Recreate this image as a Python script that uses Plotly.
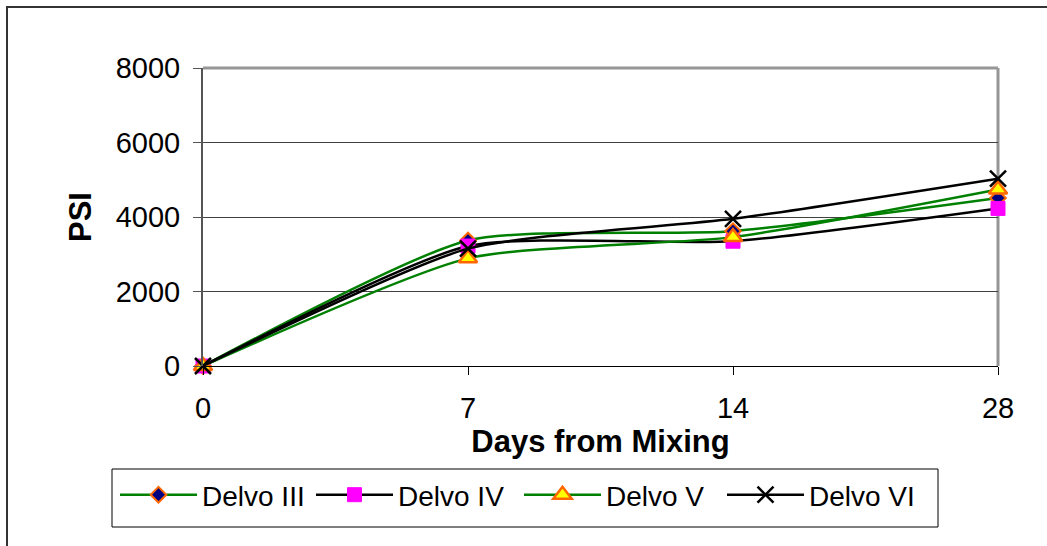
import plotly.graph_objects as go

days = ["0", "7", "14", "28"]
delvo_iii = [0, 3370, 3620, 4510]
delvo_iv = [0, 3220, 3350, 4230]
delvo_v = [0, 2890, 3460, 4740]
delvo_vi = [0, 3150, 3950, 5030]
y_ticks = [0, 2000, 4000, 6000, 8000]

FONT = "Arial, 'Liberation Sans', sans-serif"
W, H = 1047, 546
L, R, T, B = 203, 998, 68, 366
PW, PH = R - L, B - T

def px_x(p):
    return (p - L) / PW

def px_y(p):
    return (B - p) / PH

xpos = list(range(len(days)))

# legend entry start positions (px) of the sample line
legend_starts = [122, 318, 526, 729]
legend_ids = ["legend", "legend2", "legend3", "legend4"]

fig = go.Figure()
series = [
    ("Delvo III", delvo_iii, "#008000",
     dict(symbol="diamond", size=12, color="#000080", line=dict(color="#FF6600", width=2))),
    ("Delvo IV", delvo_iv, "#000000",
     dict(symbol="square", size=14, color="#FF00FF", line=dict(color="#FF00FF", width=1))),
    ("Delvo V", delvo_v, "#008000",
     dict(symbol="triangle-up", size=16, color="#FFFF00", line=dict(color="#FF6600", width=2.5))),
    ("Delvo VI", delvo_vi, "#000000",
     dict(symbol="x-thin", size=16, color="#000000", line=dict(color="#000000", width=2.5))),
]
for (name, vals, lc, mk), lid in zip(series, legend_ids):
    fig.add_trace(go.Scatter(
        x=xpos, y=vals, name=name, mode="lines+markers",
        line=dict(color=lc, width=2.5, shape="spline", smoothing=0.6),
        marker=mk, cliponaxis=False, legend=lid,
    ))

legend_common = dict(
    orientation="h", yanchor="top", y=px_y(470),
    borderwidth=0, bgcolor="rgba(0,0,0,0)",
    font=dict(size=28, family=FONT, color="black"), itemwidth=77,
)
legend_cfg = {}
for lid, start in zip(legend_ids, legend_starts):
    legend_cfg[lid] = dict(legend_common, x=px_x(start - 7), xanchor="left")

fig.update_layout(
    width=W, height=H,
    margin=dict(l=L, r=W - R, t=T, b=H - B, autoexpand=False),
    paper_bgcolor="white", plot_bgcolor="white",
    font=dict(family=FONT, size=29, color="black"),
    showlegend=True,
    **legend_cfg,
    xaxis=dict(
        range=[0, len(days) - 1], tickmode="array", tickvals=xpos, ticktext=days,
        showgrid=False, zeroline=False, showline=True, linecolor="black", linewidth=1,
        ticks="outside", ticklen=8, tickcolor="black", tickwidth=1,
        ticklabelstandoff=8,
        title=dict(text="<b>Days from Mixing</b>", font=dict(size=31), standoff=0),
    ),
    yaxis=dict(
        range=[0, 8000], tickmode="array", tickvals=y_ticks,
        showgrid=True, gridcolor="#404040", gridwidth=1, zeroline=False,
        showline=True, linecolor="#555555", linewidth=2,
        ticks="outside", ticklen=8, tickcolor="#555555", tickwidth=1,
        ticklabelstandoff=7,
        title=dict(text="<b>PSI</b>", font=dict(size=31), standoff=15),
    ),
    shapes=[
        dict(type="line", xref="paper", yref="paper", x0=0, x1=1, y0=1, y1=1,
             line=dict(color="#969696", width=3), layer="between"),
        dict(type="line", xref="paper", yref="paper", x0=1, x1=1, y0=0, y1=1,
             line=dict(color="#969696", width=3), layer="between"),
        dict(type="rect", xref="paper", yref="paper",
             x0=px_x(112), x1=px_x(938), y0=px_y(527), y1=px_y(469),
             line=dict(color="black", width=1), layer="above"),
        dict(type="rect", xref="paper", yref="paper",
             x0=px_x(7), x1=px_x(1070), y0=px_y(570), y1=px_y(7),
             line=dict(color="#333333", width=2), layer="above"),
    ],
)

fig.write_html("out.html")
